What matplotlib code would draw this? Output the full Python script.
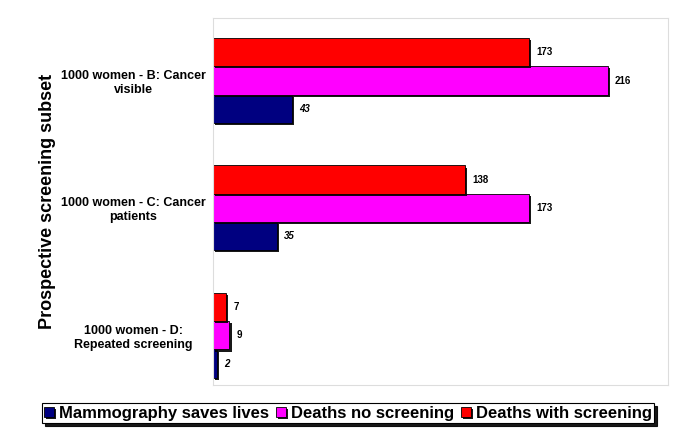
import numpy as np
import matplotlib.pyplot as plt
import matplotlib.patheffects as pe

plt.rcParams['font.family'] = ['Liberation Sans', 'DejaVu Sans']

# Data
groups = ['1000 women - D:\nRepeated screening',
          '1000 women - C: Cancer\npatients',
          '1000 women - B: Cancer\nvisible']
saves_lives = [2, 35, 43]
deaths_no_screening = [9, 173, 216]
deaths_with_screening = [7, 138, 173]

series = [
    ('Mammography saves lives', saves_lives, '#000080'),
    ('Deaths no screening', deaths_no_screening, '#ff00ff'),
    ('Deaths with screening', deaths_with_screening, '#ff0000'),
]

fig = plt.figure(figsize=(6.85, 4.41), dpi=100)
ax = fig.add_axes([0.311, 0.127, 0.664, 0.832])

y = np.arange(len(groups))
h = 0.222
shadow = [pe.SimplePatchShadow(offset=(1.5, -1.5), shadow_rgbFace='black', alpha=0.9), pe.Normal()]

for i, (name, vals, col) in enumerate(series):
    bars = ax.barh(y + (i - 1) * h, vals, height=h, color=col, edgecolor='black',
                   linewidth=0.6, label=name)
    for b in bars:
        b.set_path_effects(shadow)
    for yy, v in zip(y + (i - 1) * h, vals):
        ax.text(v + 4, yy, str(v), va='center', ha='left', fontsize=7,
                fontweight='bold', style='italic' if i == 0 else 'normal')

ax.set_xlim(0, 249)
ax.set_ylim(-0.39, 2.49)
ax.set_yticks(y)
ax.set_yticklabels(groups, fontsize=9, fontweight='bold', ha='center')
ax.tick_params(axis='y', length=0, pad=80 * 0.72)
ax.set_xticks([])
for s in ax.spines.values():
    s.set_color('#dddddd')
    s.set_linewidth(0.8)

ax.set_ylabel('Prospective screening subset', fontsize=13, fontweight='bold')
ax.yaxis.set_label_coords(-0.345, 0.5)

leg = fig.legend(loc='center', bbox_to_anchor=(0.508, 0.063), ncol=3,
                 prop={'weight': 'bold', 'size': 12}, handlelength=0.6, handleheight=0.6,
                 handletextpad=0.3, columnspacing=0.4, borderpad=0.15, borderaxespad=0,
                 fancybox=False, shadow={'color': 'black', 'alpha': 0.9},
                 edgecolor='black', framealpha=1)
leg.get_frame().set_linewidth(0.8)

fig.savefig('out.png', dpi=100)
